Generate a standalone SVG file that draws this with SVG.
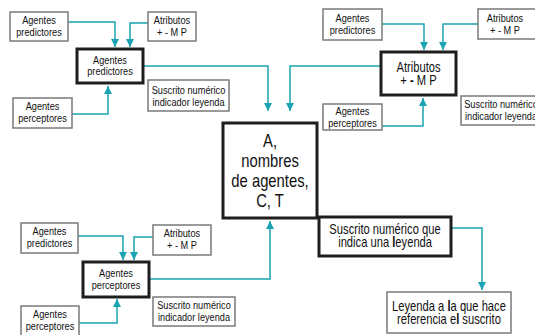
<svg xmlns="http://www.w3.org/2000/svg" width="535" height="335" viewBox="0 0 535 335">
<defs>
<marker id="ah" markerUnits="userSpaceOnUse" markerWidth="10" markerHeight="10" refX="8" refY="4" orient="auto">
<path d="M0,0 L8,4 L0,8 Z" fill="#1ba3b3"/>
</marker>
<style>
.sm{fill:#fff;stroke:#7a7a7a;stroke-width:1.5}
.tk{fill:#fff;stroke:#1e1e1e;stroke-width:3}
text{font-family:"Liberation Sans",Arial,sans-serif;fill:#111;text-anchor:middle;transform-box:fill-box;transform-origin:center;transform:scaleX(0.8)}
.s{font-size:11.5px}
.c{font-size:14px}
.l{font-size:18.5px}
.cn{fill:none;stroke:#1ba3b3;stroke-width:1.5;marker-end:url(#ah)}
</style>
</defs>
<rect width="535" height="335" fill="#fff"/>
<g id="connectors">
<path class="cn" d="M68,22 H115 V47"/>
<path class="cn" d="M148,23 H130 V47"/>
<path class="cn" d="M72,114 H108 V86"/>
<path class="cn" d="M143,66 H268 V111"/>
<path class="cn" d="M382,24 H424 V50"/>
<path class="cn" d="M478,24 H443 V50"/>
<path class="cn" d="M382,126 H423 V98"/>
<path class="cn" d="M381,66 H290 V111"/>
<path class="cn" d="M78,236 H123 V260"/>
<path class="cn" d="M153,237 H134 V260"/>
<path class="cn" d="M79,323 H117 V299"/>
<path class="cn" d="M149,279 H270 V221"/>
<path class="cn" d="M451,228 H482 V290"/>
</g>
<g id="tl-pred"><rect class="sm" x="10" y="12" width="58" height="29"/><text class="s" x="39" y="24">Agentes</text><text class="s" x="39" y="36">predictores</text></g>
<g id="tl-atr"><rect class="sm" x="148" y="12" width="48" height="29"/><text class="s" x="172" y="24">Atributos</text><text class="s" x="172" y="36">+ - M P</text></g>
<g id="tl-main"><rect class="tk" x="77" y="49" width="66" height="34"/><text class="s" x="110" y="64">Agentes</text><text class="s" x="110" y="75">predictores</text></g>
<g id="tl-perc"><rect class="sm" x="13" y="98" width="59" height="30"/><text class="s" x="42.5" y="110">Agentes</text><text class="s" x="42.5" y="122">perceptores</text></g>
<g id="tl-sus"><rect class="sm" x="148" y="80" width="81" height="31"/><text class="s" x="188.5" y="94">Suscrito numérico</text><text class="s" x="188.5" y="106">indicador leyenda</text></g>
<g id="tr-pred"><rect class="sm" x="323" y="9" width="59" height="31"/><text class="s" x="352.5" y="22">Agentes</text><text class="s" x="352.5" y="34">predictores</text></g>
<g id="tr-atr"><rect class="sm" x="478" y="9" width="60" height="30"/><text class="s" x="505" y="22">Atributos</text><text class="s" x="505" y="34">+ - M P</text></g>
<g id="tr-main"><rect class="tk" x="381" y="52" width="75" height="43"/><text class="c" x="418.5" y="72">Atributos</text><text class="c" x="418.5" y="85">+ <tspan font-weight="bold">-</tspan> M P</text></g>
<g id="tr-perc"><rect class="sm" x="323" y="104" width="59" height="26"/><text class="s" x="352.5" y="115">Agentes</text><text class="s" x="352.5" y="127">perceptores</text></g>
<g id="tr-sus"><rect class="sm" x="461" y="96" width="80" height="29"/><text class="s" x="501" y="108">Suscrito numérico</text><text class="s" x="501" y="120">indicador leyenda</text></g>
<g id="center"><rect class="tk" x="223" y="123" width="94" height="95"/><text class="l" x="270" y="147">A,</text><text class="l" x="270" y="167">nombres</text><text class="l" x="270" y="187">de agentes,</text><text class="l" x="270" y="207">C, T</text></g>
<g id="bl-pred"><rect class="sm" x="21" y="223" width="57" height="30"/><text class="s" x="49.5" y="235">Agentes</text><text class="s" x="49.5" y="247">predictores</text></g>
<g id="bl-atr"><rect class="sm" x="153" y="225" width="58" height="30"/><text class="s" x="182" y="237">Atributos</text><text class="s" x="182" y="249">+ - M P</text></g>
<g id="bl-main"><rect class="tk" x="83" y="262" width="66" height="35"/><text class="s" x="116" y="277">Agentes</text><text class="s" x="116" y="289">perceptores</text></g>
<g id="bl-perc"><rect class="sm" x="21" y="306" width="58" height="31"/><text class="s" x="50" y="318">Agentes</text><text class="s" x="50" y="330">perceptores</text></g>
<g id="bl-sus"><rect class="sm" x="153" y="297" width="82" height="29"/><text class="s" x="194" y="309">Suscrito numérico</text><text class="s" x="194" y="321">indicador leyenda</text></g>
<g id="sus-main"><rect class="tk" x="319" y="217" width="132" height="39"/><text class="c" x="385" y="234">Suscrito numérico que</text><text class="c" x="385" y="247">indica una <tspan font-weight="bold">l</tspan>eyenda</text></g>
<g id="leyenda"><rect class="sm" x="387" y="292" width="124" height="41"/><text class="c" x="449" y="311">Leyenda a <tspan font-weight="bold">l</tspan>a que hace</text><text class="c" x="449" y="324">referencia e<tspan font-weight="bold">l</tspan> suscrito</text></g>
</svg>
